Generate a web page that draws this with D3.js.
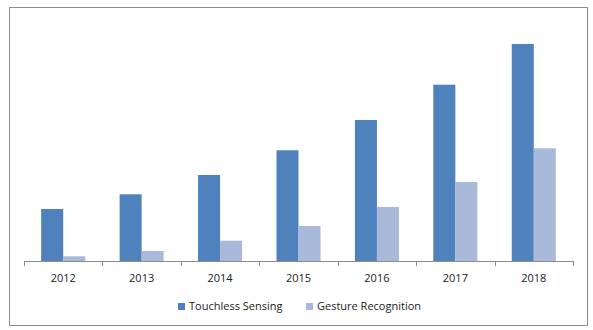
<!DOCTYPE html>
<html>
<head>
<meta charset="utf-8">
<script src="https://cdn.jsdelivr.net/npm/d3@7/dist/d3.min.js"></script>
<style>
  html, body { margin: 0; padding: 0; background: #fff; }
  svg { display: block; }
  text { font-family: "Open Sans", "Noto Sans", sans-serif; fill: #222; }
</style>
</head>
<body>
<div id="chart"></div>
<script>
// Yearly values for the two series
const years = ["2012", "2013", "2014", "2015", "2016", "2017", "2018"];
const seriesNames = ["Touchless Sensing", "Gesture Recognition"];
const touchless = [5.2, 6.67, 8.6, 11.07, 14.1, 17.63, 21.7];
const gesture = [0.47, 1.0, 2.03, 3.5, 5.4, 7.9, 11.27];
const colors = ["#4F81BD", "#A9B9D9"];

const W = 593, H = 330;
const svg = d3.select("#chart").append("svg").attr("width", W).attr("height", H);

// outer frame
svg.append("rect")
  .attr("x", 9.5).attr("y", 7.5).attr("width", 578).attr("height", 318)
  .attr("fill", "#fff").attr("stroke", "#8c8c8c").attr("stroke-width", 1);

const plot = { left: 24, right: 573, top: 11, bottom: 261 };

const x = d3.scaleBand().domain(years).range([plot.left, plot.right]).paddingInner(0).paddingOuter(0);
const x1 = d3.scaleBand().domain(seriesNames).range([0, x.bandwidth()]).paddingInner(0).paddingOuter(0.78);
const y = d3.scaleLinear().domain([0, 25]).range([plot.bottom, plot.top]);

const rows = years.map((yr, i) => ({ year: yr, values: [touchless[i], gesture[i]] }));

const groups = svg.append("g").selectAll("g").data(rows).join("g")
  .attr("transform", d => `translate(${x(d.year)},0)`);

groups.selectAll("rect").data(d => d.values.map((v, k) => ({ k, v }))).join("rect")
  .attr("x", d => x1(seriesNames[d.k]))
  .attr("width", x1.bandwidth())
  .attr("y", d => y(d.v))
  .attr("height", d => y(0) - y(d.v))
  .attr("fill", d => colors[d.k]);

// category axis with ticks between categories
const axisG = svg.append("g");
axisG.append("line")
  .attr("x1", plot.left).attr("x2", plot.right)
  .attr("y1", plot.bottom + 0.5).attr("y2", plot.bottom + 0.5)
  .attr("stroke", "#8c8c8c");
const bounds = years.map(d => x(d)).concat([x(years[years.length - 1]) + x.bandwidth()]);
axisG.selectAll("line.tick").data(bounds).join("line")
  .attr("class", "tick")
  .attr("x1", d => Math.round(d) + 0.5).attr("x2", d => Math.round(d) + 0.5)
  .attr("y1", plot.bottom).attr("y2", plot.bottom + 5)
  .attr("stroke", "#8c8c8c");
axisG.selectAll("text").data(years).join("text")
  .attr("x", d => x(d) + x.bandwidth() / 2)
  .attr("y", 282)
  .attr("text-anchor", "middle")
  .attr("font-size", 11)
  .text(d => d);

// legend
const legendItems = [
  { name: seriesNames[0], color: colors[0], x: 178 },
  { name: seriesNames[1], color: colors[1], x: 306 }
];
const lg = svg.append("g").selectAll("g").data(legendItems).join("g")
  .attr("transform", d => `translate(${d.x},0)`);
lg.append("rect").attr("x", 0).attr("y", 303).attr("width", 7).attr("height", 7)
  .attr("fill", d => d.color);
lg.append("text").attr("x", 11).attr("y", 310)
  .attr("font-size", 11)
  .text(d => d.name);
</script>
</body>
</html>
